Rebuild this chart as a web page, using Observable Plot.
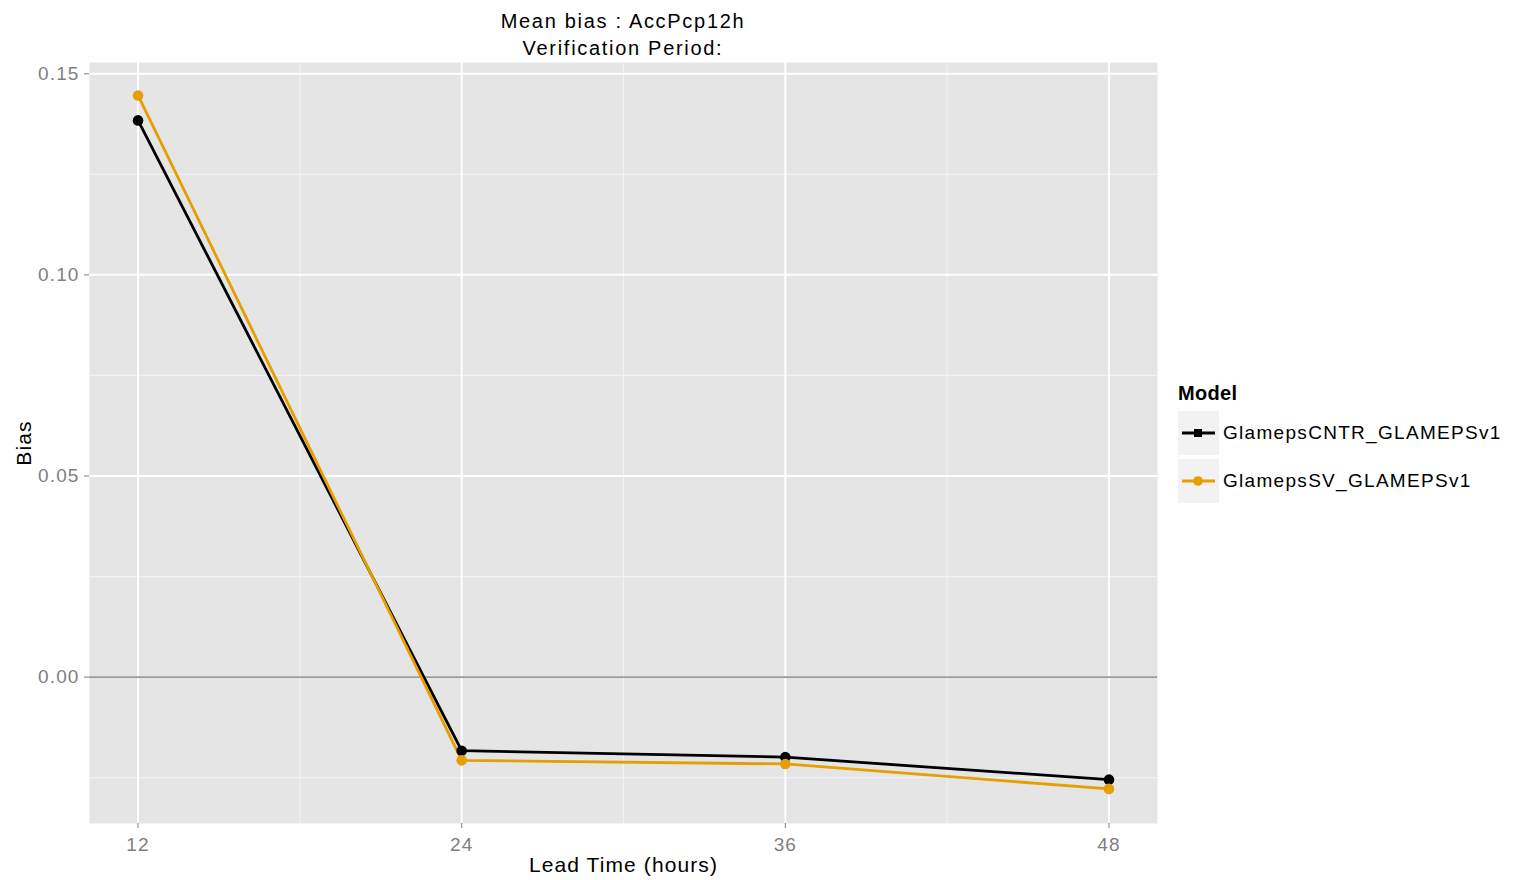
<!DOCTYPE html>
<html>
<head>
<meta charset="utf-8">
<script src="https://cdn.jsdelivr.net/npm/d3@7"></script>
<script src="https://cdn.jsdelivr.net/npm/@observablehq/plot@0.6"></script>
<style>
  body { margin: 0; background: #fff; font-family: "Liberation Sans", Arial, sans-serif; }
  #wrap { position: relative; width: 1513px; height: 880px; }
  #wrap > svg { position: absolute; left: 0; top: 0; }
  #wrap > svg text { letter-spacing: 1.1px; }
  .title { position: absolute; left: 89px; width: 1068px; text-align: center; font-size: 20px; color: #000; line-height: 1; letter-spacing: 1.7px; }
  #legend { position: absolute; left: 1178px; top: 382px; }
  #legend .lt { font-weight: bold; font-size: 20px; color: #000; margin-bottom: 4px; letter-spacing: 0.3px; }
  #legend .row { display: flex; align-items: center; height: 48px; }
  #legend .key { width: 41px; height: 44px; background: #f2f2f2; margin-right: 4px; }
  #legend .key svg { display: block; }
  #legend .lab { font-size: 19px; color: #000; letter-spacing: 1.3px; }
</style>
</head>
<body>
<div id="wrap">
  <div class="title" style="top:11px">Mean bias : AccPcp12h</div>
  <div class="title" style="top:38px">Verification Period:</div>
  <div id="legend"></div>
</div>
<script>
// Lead times (hours) and mean bias of 12h accumulated precipitation per model
const leadTimes = [12, 24, 36, 48];
const models = ["GlamepsCNTR_GLAMEPSv1", "GlamepsSV_GLAMEPSv1"];
const biasCNTR = [0.1384, -0.0183, -0.0199, -0.0255];
const biasSV = [0.1446, -0.0207, -0.0216, -0.0278];
const modelColors = ["#000000", "#E69F00"];
const yTicks = [0, 0.05, 0.10, 0.15];
const yMinorTicks = [-0.025, 0.025, 0.075, 0.125];
const xMinorTicks = [18, 30, 42];

const rows = [
  ...leadTimes.map((t, i) => ({lead: t, bias: biasCNTR[i], model: models[0]})),
  ...leadTimes.map((t, i) => ({lead: t, bias: biasSV[i], model: models[1]}))
];

const chart = Plot.plot({
  width: 1513,
  height: 880,
  marginLeft: 89,
  marginRight: 356,
  marginTop: 62,
  marginBottom: 57,
  style: {fontFamily: "'Liberation Sans', Arial, sans-serif", background: "transparent"},
  x: {domain: [10.2, 49.8]},
  y: {domain: [-0.0364, 0.1528]},
  color: {domain: models, range: modelColors},
  marks: [
    Plot.frame({fill: "#e5e5e5", stroke: null}),
    Plot.gridY(yMinorTicks, {stroke: "#f2f2f2", strokeOpacity: 1, strokeWidth: 1.2}),
    Plot.gridX(xMinorTicks, {stroke: "#f2f2f2", strokeOpacity: 1, strokeWidth: 1.2}),
    Plot.gridY(yTicks, {stroke: "#ffffff", strokeOpacity: 1, strokeWidth: 2}),
    Plot.gridX(leadTimes, {stroke: "#ffffff", strokeOpacity: 1, strokeWidth: 2}),
    Plot.ruleY([0], {stroke: "#999999", strokeWidth: 1.8}),
    Plot.axisY(yTicks, {
      tickFormat: d3.format(".2f"), tickSize: 5, tickPadding: 5,
      stroke: "#7f7f7f", color: "#7f7f7f", fontSize: 19, label: null
    }),
    Plot.axisX(leadTimes, {
      tickSize: 5, tickPadding: 9,
      stroke: "#7f7f7f", color: "#7f7f7f", fontSize: 19, label: null
    }),
    Plot.text(["Bias"], {frameAnchor: "left", textAnchor: "middle", dx: -65, rotate: -90, fontSize: 21, fill: "#000"}),
    Plot.text(["Lead Time (hours)"], {frameAnchor: "bottom", dy: 48, fontSize: 21, fill: "#000"}),
    Plot.line(rows, {x: "lead", y: "bias", z: "model", stroke: "model", strokeWidth: 2.8}),
    Plot.dot(rows, {x: "lead", y: "bias", fill: "model", r: 5.3, stroke: null})
  ]
});
document.getElementById("wrap").prepend(chart);

// Legend built from the same model list and colour range
const legend = d3.select("#legend");
legend.append("div").attr("class", "lt").text("Model");
models.forEach((m, i) => {
  const row = legend.append("div").attr("class", "row");
  const key = row.append("div").attr("class", "key");
  const s = key.append("svg").attr("width", 41).attr("height", 44);
  s.append("line").attr("x1", 4).attr("x2", 37).attr("y1", 22).attr("y2", 22)
    .attr("stroke", modelColors[i]).attr("stroke-width", 2.8);
  if (i === 0) {
    s.append("rect").attr("x", 16).attr("y", 18).attr("width", 8).attr("height", 8).attr("fill", modelColors[i]);
  } else {
    s.append("circle").attr("cx", 20).attr("cy", 22).attr("r", 4.8).attr("fill", modelColors[i]);
  }
  row.append("div").attr("class", "lab").text(m);
});
</script>
</body>
</html>
